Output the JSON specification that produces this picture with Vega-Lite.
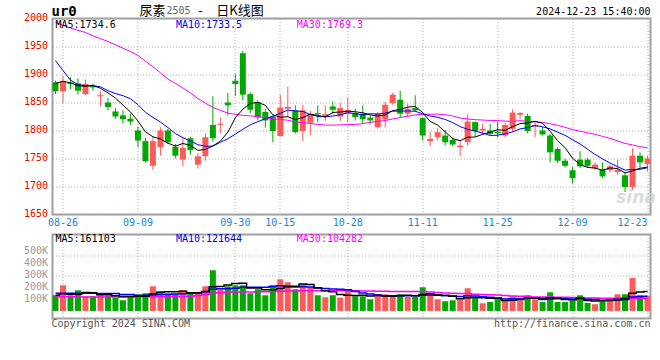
{
  "$schema": "https://vega.github.io/schema/vega-lite/v6.json",
  "background": "#ffffff",
  "padding": {"left": 21.5, "top": 3.5, "right": 8, "bottom": 4},
  "bounds": "flush",
  "spacing": 20,
  "config": {
    "view": {"stroke": "#a0a0a0", "strokeWidth": 2},
    "font": "DejaVu Sans Mono",
    "axis": {"labelFont": "DejaVu Sans Mono", "labelFontSize": 10, "ticks": false, "domain": false, "tickSize": 0, "gridColor": "#b0b0b0", "gridDash": [1, 2], "gridWidth": 1, "labelOverlap": false}
  },
  "datasets": {
    "k": [
      {"d":"08-23","o":1886,"h":1889,"l":1865,"c":1870,"v":130600,"m5":1884,"m10":1925,"m30":1993,"vm5":131000,"vm10":147000,"vm30":118000},
      {"d":"08-26","o":1870,"h":1898,"l":1849,"c":1888,"v":213900,"m5":1888,"m10":1907,"m30":1988,"vm5":144000,"vm10":147000,"vm30":118000},
      {"d":"08-27","o":1886,"h":1895,"l":1874,"c":1883,"v":130600,"m5":1885,"m10":1890,"m30":1983,"vm5":139000,"vm10":148000,"vm30":118000},
      {"d":"08-28","o":1884,"h":1893,"l":1864,"c":1871,"v":172200,"m5":1880,"m10":1882,"m30":1979,"vm5":139000,"vm10":148000,"vm30":117000},
      {"d":"08-29","o":1865,"h":1891,"l":1863,"c":1883,"v":122200,"m5":1879,"m10":1880,"m30":1975,"vm5":153900,"vm10":147000,"vm30":117000},
      {"d":"08-30","o":1880,"h":1884,"l":1871,"c":1877,"v":122200,"m5":1880.4,"m10":1880,"m30":1969,"vm5":152200,"vm10":147000,"vm30":117000},
      {"d":"09-02","o":1861,"h":1870,"l":1843,"c":1863,"v":130600,"m5":1875.4,"m10":1878,"m30":1964,"vm5":135600,"vm10":146000,"vm30":117000},
      {"d":"09-03","o":1850,"h":1858,"l":1836,"c":1842,"v":147200,"m5":1867.2,"m10":1871,"m30":1959,"vm5":138900,"vm10":146000,"vm30":117000},
      {"d":"09-04","o":1834,"h":1840,"l":1821,"c":1825,"v":111100,"m5":1858,"m10":1866,"m30":1953,"vm5":126700,"vm10":146000,"vm30":117000},
      {"d":"09-05","o":1827,"h":1836,"l":1812,"c":1820,"v":88900,"m5":1845.4,"m10":1862.2,"m30":1947,"vm5":120000,"vm10":137000,"vm30":117000},
      {"d":"09-06","o":1821,"h":1830,"l":1810,"c":1816,"v":122200,"m5":1833.2,"m10":1856.8,"m30":1941,"vm5":120000,"vm10":136100,"vm30":117000},
      {"d":"09-09","o":1800,"h":1807,"l":1770,"c":1782,"v":138900,"m5":1817,"m10":1846.2,"m30":1934,"vm5":121700,"vm10":128600,"vm30":118000},
      {"d":"09-10","o":1781,"h":1787,"l":1743,"c":1745,"v":147200,"m5":1797.6,"m10":1832.4,"m30":1924,"vm5":121700,"vm10":130300,"vm30":118000},
      {"d":"09-11","o":1737,"h":1789,"l":1730,"c":1781,"v":205600,"m5":1788.8,"m10":1823.4,"m30":1914,"vm5":140600,"vm10":133600,"vm30":119000},
      {"d":"09-12","o":1770,"h":1806,"l":1755,"c":1800,"v":163900,"m5":1784.8,"m10":1815.1,"m30":1903,"vm5":155600,"vm10":137800,"vm30":119000},
      {"d":"09-13","o":1800,"h":1803,"l":1776,"c":1779,"v":138900,"m5":1777.4,"m10":1805.3,"m30":1892,"vm5":158900,"vm10":139500,"vm30":120000},
      {"d":"09-18","o":1771,"h":1776,"l":1750,"c":1755,"v":138900,"m5":1772,"m10":1794.5,"m30":1884,"vm5":158900,"vm10":140300,"vm30":120000},
      {"d":"09-19","o":1748,"h":1786,"l":1736,"c":1769,"v":172200,"m5":1776.8,"m10":1787.2,"m30":1876,"vm5":163900,"vm10":142800,"vm30":121000},
      {"d":"09-20","o":1786,"h":1789,"l":1757,"c":1765,"v":147200,"m5":1773.6,"m10":1781.2,"m30":1867,"vm5":152200,"vm10":146400,"vm30":122000},
      {"d":"09-23","o":1739,"h":1760,"l":1732,"c":1754,"v":147200,"m5":1764.4,"m10":1774.6,"m30":1857,"vm5":148900,"vm10":152200,"vm30":128000},
      {"d":"09-24","o":1754,"h":1795,"l":1746,"c":1788,"v":205600,"m5":1766.2,"m10":1771.8,"m30":1849,"vm5":162200,"vm10":160600,"vm30":136000},
      {"d":"09-25","o":1810,"h":1861,"l":1780,"c":1786,"v":338900,"m5":1772.4,"m10":1772.2,"m30":1841,"vm5":202200,"vm10":180600,"vm30":150000},
      {"d":"09-26","o":1810,"h":1823,"l":1795,"c":1812,"v":180600,"m5":1781,"m10":1778.9,"m30":1836,"vm5":203900,"vm10":183900,"vm30":153000},
      {"d":"09-27","o":1850,"h":1867,"l":1827,"c":1845,"v":205600,"m5":1797,"m10":1785.3,"m30":1831,"vm5":215600,"vm10":183900,"vm30":155000},
      {"d":"09-30","o":1889,"h":1900,"l":1862,"c":1883,"v":213900,"m5":1822.8,"m10":1793.6,"m30":1829,"vm5":228900,"vm10":188900,"vm30":157000},
      {"d":"10-08","o":1938,"h":1942,"l":1854,"c":1864,"v":213900,"m5":1838,"m10":1802.1,"m30":1827,"vm5":230600,"vm10":196400,"vm30":158000},
      {"d":"10-09","o":1865,"h":1868,"l":1831,"c":1837,"v":147200,"m5":1848.2,"m10":1810.3,"m30":1826,"vm5":192200,"vm10":197200,"vm30":158000},
      {"d":"10-10","o":1850,"h":1854,"l":1818,"c":1823,"v":180600,"m5":1850.4,"m10":1815.7,"m30":1825,"vm5":192200,"vm10":198100,"vm30":159000},
      {"d":"10-11","o":1833,"h":1839,"l":1805,"c":1818,"v":130600,"m5":1845,"m10":1821,"m30":1823,"vm5":177200,"vm10":196400,"vm30":160000},
      {"d":"10-14","o":1825,"h":1827,"l":1779,"c":1799,"v":213900,"m5":1828.2,"m10":1825.5,"m30":1820.8,"vm5":177200,"vm10":203100,"vm30":162000},
      {"d":"10-15","o":1790,"h":1864,"l":1789,"c":1841,"v":263900,"m5":1823.6,"m10":1830.8,"m30":1819.8,"vm5":187200,"vm10":208900,"vm30":165000},
      {"d":"10-16","o":1839,"h":1879,"l":1824,"c":1842,"v":238900,"m5":1824.6,"m10":1836.4,"m30":1818.3,"vm5":205600,"vm10":198900,"vm30":166000},
      {"d":"10-17","o":1836,"h":1845,"l":1795,"c":1797,"v":180600,"m5":1819.4,"m10":1834.9,"m30":1815.4,"vm5":205600,"vm10":198900,"vm30":167000},
      {"d":"10-18","o":1799,"h":1846,"l":1781,"c":1836,"v":222200,"m5":1823,"m10":1834,"m30":1814.2,"vm5":223900,"vm10":200600,"vm30":168000},
      {"d":"10-21","o":1814,"h":1835,"l":1791,"c":1830,"v":197200,"m5":1829.2,"m10":1828.7,"m30":1812.5,"vm5":220600,"vm10":198900,"vm30":169000},
      {"d":"10-22","o":1831,"h":1845,"l":1815,"c":1829,"v":130600,"m5":1826.8,"m10":1825.2,"m30":1810.9,"vm5":193900,"vm10":190600,"vm30":169000},
      {"d":"10-23","o":1826,"h":1845,"l":1817,"c":1829,"v":113900,"m5":1824.2,"m10":1824.4,"m30":1809.7,"vm5":168900,"vm10":187200,"vm30":169000},
      {"d":"10-24","o":1843,"h":1852,"l":1829,"c":1837,"v":130600,"m5":1832.2,"m10":1825.8,"m30":1809.6,"vm5":158900,"vm10":182200,"vm30":168000},
      {"d":"10-25","o":1825,"h":1849,"l":1817,"c":1840,"v":111100,"m5":1833,"m10":1828,"m30":1810.1,"vm5":136700,"vm10":180300,"vm30":168000},
      {"d":"10-28","o":1830,"h":1858,"l":1815,"c":1837,"v":166700,"m5":1834.4,"m10":1831.8,"m30":1810.6,"vm5":130600,"vm10":175600,"vm30":169000},
      {"d":"10-29","o":1831,"h":1839,"l":1818,"c":1824,"v":122200,"m5":1833.4,"m10":1830.1,"m30":1810.9,"vm5":128900,"vm10":161400,"vm30":168000},
      {"d":"10-30","o":1830,"h":1845,"l":1812,"c":1820,"v":122200,"m5":1831.6,"m10":1827.9,"m30":1812.2,"vm5":130600,"vm10":149700,"vm30":167000},
      {"d":"10-31","o":1823,"h":1827,"l":1811,"c":1818,"v":97200,"m5":1827.8,"m10":1830,"m30":1814.6,"vm5":123900,"vm10":141400,"vm30":166000},
      {"d":"11-01","o":1806,"h":1833,"l":1803,"c":1830,"v":138900,"m5":1825.8,"m10":1829.4,"m30":1816.2,"vm5":129400,"vm10":133100,"vm30":165000},
      {"d":"11-04","o":1820,"h":1851,"l":1805,"c":1846,"v":138900,"m5":1827.6,"m10":1831,"m30":1817.8,"vm5":123900,"vm10":127200,"vm30":164000},
      {"d":"11-05","o":1849,"h":1867,"l":1846,"c":1864,"v":116700,"m5":1835.6,"m10":1834.5,"m30":1820.6,"vm5":122800,"vm10":125800,"vm30":163000},
      {"d":"11-06","o":1855,"h":1871,"l":1823,"c":1830,"v":138900,"m5":1837.6,"m10":1834.6,"m30":1823.1,"vm5":126100,"vm10":128300,"vm30":163000},
      {"d":"11-07","o":1830,"h":1848,"l":1824,"c":1839,"v":116700,"m5":1841.8,"m10":1834.8,"m30":1825.4,"vm5":130000,"vm10":127000,"vm30":162000},
      {"d":"11-08","o":1840,"h":1863,"l":1833,"c":1836,"v":116700,"m5":1843,"m10":1834.4,"m30":1827.8,"vm5":125600,"vm10":127500,"vm30":161000},
      {"d":"11-11","o":1822,"h":1824,"l":1782,"c":1791,"v":197200,"m5":1832,"m10":1829.8,"m30":1829,"vm5":137200,"vm10":130600,"vm30":162000},
      {"d":"11-12","o":1781,"h":1798,"l":1772,"c":1785,"v":150000,"m5":1816.2,"m10":1825.9,"m30":1828.9,"vm5":143900,"vm10":133300,"vm30":158000},
      {"d":"11-13","o":1788,"h":1805,"l":1782,"c":1797,"v":97200,"m5":1809.6,"m10":1823.6,"m30":1829.3,"vm5":135600,"vm10":130800,"vm30":153000},
      {"d":"11-14","o":1791,"h":1801,"l":1773,"c":1779,"v":80600,"m5":1797.6,"m10":1819.7,"m30":1828.2,"vm5":128300,"vm10":129200,"vm30":150000},
      {"d":"11-15","o":1783,"h":1788,"l":1772,"c":1775,"v":88900,"m5":1785.4,"m10":1814.2,"m30":1825.9,"vm5":122800,"vm10":124200,"vm30":148000},
      {"d":"11-18","o":1770,"h":1781,"l":1754,"c":1773,"v":94400,"m5":1781.8,"m10":1806.9,"m30":1822.2,"vm5":102200,"vm10":119700,"vm30":146000},
      {"d":"11-19","o":1779,"h":1829,"l":1773,"c":1816,"v":188900,"m5":1788,"m10":1802.1,"m30":1820.6,"vm5":110000,"vm10":127000,"vm30":145000},
      {"d":"11-20","o":1815,"h":1816,"l":1789,"c":1799,"v":111100,"m5":1788.4,"m10":1799,"m30":1819.3,"vm5":112800,"vm10":124200,"vm30":140000},
      {"d":"11-21","o":1800,"h":1812,"l":1793,"c":1803,"v":63900,"m5":1793.2,"m10":1795.4,"m30":1818.7,"vm5":109400,"vm10":118900,"vm30":136000},
      {"d":"11-22","o":1800,"h":1812,"l":1791,"c":1794,"v":75000,"m5":1797,"m10":1791.2,"m30":1817.9,"vm5":106700,"vm10":114700,"vm30":134000},
      {"d":"11-25","o":1798,"h":1815,"l":1787,"c":1795,"v":97200,"m5":1801.4,"m10":1791.6,"m30":1817.7,"vm5":107200,"vm10":104700,"vm30":132000},
      {"d":"11-26","o":1791,"h":1814,"l":1788,"c":1810,"v":88900,"m5":1800.2,"m10":1794.1,"m30":1816.7,"vm5":87200,"vm10":98600,"vm30":128000},
      {"d":"11-27","o":1803,"h":1838,"l":1797,"c":1832,"v":122200,"m5":1806.8,"m10":1797.6,"m30":1816.4,"vm5":89400,"vm10":101100,"vm30":125000},
      {"d":"11-28","o":1828,"h":1833,"l":1821,"c":1831,"v":88900,"m5":1812.4,"m10":1802.8,"m30":1817.5,"vm5":94400,"vm10":101900,"vm30":123000},
      {"d":"11-29","o":1826,"h":1830,"l":1795,"c":1799,"v":130600,"m5":1813.4,"m10":1805.2,"m30":1816.3,"vm5":105600,"vm10":106100,"vm30":120000},
      {"d":"12-02","o":1807,"h":1815,"l":1788,"c":1810,"v":97200,"m5":1816.4,"m10":1808.9,"m30":1815.6,"vm5":105600,"vm10":106400,"vm30":117000},
      {"d":"12-03","o":1800,"h":1806,"l":1791,"c":1793,"v":75000,"m5":1813,"m10":1806.6,"m30":1814.4,"vm5":102800,"vm10":95000,"vm30":116000},
      {"d":"12-04","o":1791,"h":1794,"l":1743,"c":1761,"v":155600,"m5":1798.8,"m10":1802.8,"m30":1812.1,"vm5":109500,"vm10":99500,"vm30":116000},
      {"d":"12-05","o":1767,"h":1770,"l":1742,"c":1746,"v":75000,"m5":1781.8,"m10":1797.1,"m30":1809.1,"vm5":106700,"vm10":100600,"vm30":115000},
      {"d":"12-06","o":1746,"h":1750,"l":1734,"c":1737,"v":75000,"m5":1769.4,"m10":1791.4,"m30":1805.7,"vm5":95600,"vm10":100600,"vm30":114000},
      {"d":"12-09","o":1729,"h":1735,"l":1705,"c":1715,"v":88900,"m5":1750.4,"m10":1783.4,"m30":1801.6,"vm5":93900,"vm10":99700,"vm30":112000},
      {"d":"12-10","o":1748,"h":1763,"l":1733,"c":1736,"v":130600,"m5":1739,"m10":1776,"m30":1798.7,"vm5":105000,"vm10":103900,"vm30":110000},
      {"d":"12-11","o":1748,"h":1751,"l":1733,"c":1737,"v":66700,"m5":1734.2,"m10":1766.5,"m30":1795.9,"vm5":87200,"vm10":98400,"vm30":108000},
      {"d":"12-12","o":1733,"h":1743,"l":1730,"c":1739,"v":55600,"m5":1732.8,"m10":1757.3,"m30":1793.3,"vm5":83400,"vm10":95000,"vm30":107000},
      {"d":"12-13","o":1730,"h":1743,"l":1715,"c":1718,"v":80600,"m5":1729,"m10":1749.2,"m30":1789.5,"vm5":84500,"vm10":90000,"vm30":106000},
      {"d":"12-16","o":1729,"h":1739,"l":1725,"c":1736,"v":105600,"m5":1733.2,"m10":1741.8,"m30":1785.9,"vm5":87800,"vm10":90900,"vm30":105000},
      {"d":"12-17","o":1726,"h":1748,"l":1721,"c":1730,"v":138900,"m5":1732,"m10":1735.5,"m30":1781.4,"vm5":89500,"vm10":97300,"vm30":105000},
      {"d":"12-18","o":1720,"h":1724,"l":1690,"c":1699,"v":138900,"m5":1724.4,"m10":1729.3,"m30":1777,"vm5":103900,"vm10":95600,"vm30":104500},
      {"d":"12-19","o":1699,"h":1768,"l":1694,"c":1755,"v":275000,"m5":1727.6,"m10":1730.2,"m30":1774.2,"vm5":147800,"vm10":115600,"vm30":105500},
      {"d":"12-20","o":1755,"h":1761,"l":1734,"c":1743,"v":130600,"m5":1732.6,"m10":1730.8,"m30":1771.1,"vm5":157800,"vm10":121100,"vm30":105000},
      {"d":"12-23","o":1740,"h":1755,"l":1727,"c":1750,"v":125000,"m5":1734.6,"m10":1733.5,"m30":1769.3,"vm5":161103,"vm10":121644,"vm30":104282}
    ]
  },
  "vconcat": [
    {
      "width": 598,
      "height": 196,
      "data": {"name": "k"},
      "encoding": {
        "x": {"field": "d", "type": "ordinal", "title": null,
          "scale": {"paddingInner": 0.2, "paddingOuter": 0},
          "axis": {"values": ["08-26","09-09","09-30","10-15","10-28","11-11","11-25","12-09","12-23"], "labelColor": "#1a87d6", "labelPadding": 3, "labelAngle": 0, "grid": true, "bandPosition": 0.5, "labelAlign": {"expr": "datum.label == '12-23' ? 'right' : 'center'"}}}
      },
      "layer": [
        {
          "mark": {"type": "rule", "strokeWidth": 1},
          "encoding": {
            "y": {"field": "l", "type": "quantitative", "title": null,
              "scale": {"domain": [1650, 2000], "nice": false, "zero": false},
              "axis": {"values": [1650,1700,1750,1800,1850,1900,1950,2000], "format": "d", "labelColor": "#ee0000", "labelPadding": 5, "grid": true, "labelOffset": -1, "labelOverlap": false, "labelBound": false, "tickCount": 8}},
            "y2": {"field": "h"},
            "color": {"condition": {"test": "datum.c > datum.o", "value": "#ff5a5a"}, "value": "#00a800"}
          }
        },
        {
          "mark": {"type": "bar"},
          "encoding": {
            "y": {"field": "o", "type": "quantitative", "title": null},
            "y2": {"field": "c"},
            "color": {"condition": {"test": "datum.c > datum.o", "value": "#ff5a5a"}, "value": "#00a800"}
          }
        },
        {
          "mark": {"type": "line", "color": "#ff00ff", "strokeWidth": 1},
          "encoding": {"y": {"field": "m30", "type": "quantitative", "title": null}}
        },
        {
          "mark": {"type": "line", "color": "#0000ff", "strokeWidth": 1},
          "encoding": {"y": {"field": "m10", "type": "quantitative", "title": null}}
        },
        {
          "mark": {"type": "line", "color": "#000000", "strokeWidth": 1},
          "encoding": {"y": {"field": "m5", "type": "quantitative", "title": null}}
        },
        {
          "data": {"values": [{"t": "sina"}]},
          "mark": {"type": "text", "align": "center", "baseline": "middle", "fontSize": 17, "fontWeight": "bold", "fontStyle": "italic", "font": "DejaVu Sans", "color": "#d4d4d4", "opacity": 0.8, "dx": 11},
          "encoding": {"x": {"datum": "12-18", "type": "ordinal"}, "y": {"datum": 1680, "type": "quantitative"}, "text": {"field": "t"}}
        },
        {
          "data": {"values": [{"t": "ur0"}]},
          "mark": {"type": "text", "align": "left", "baseline": "middle", "fontSize": 14, "fontWeight": "bold", "font": "DejaVu Sans Mono", "color": "#000000", "dx": -4, "dy": -7},
          "encoding": {"x": {"datum": "08-23", "type": "ordinal"}, "y": {"datum": 2000, "type": "quantitative"}, "text": {"field": "t"}}
        },
        {
          "data": {"values": [{"t": "尿素"}]},
          "mark": {"type": "text", "align": "right", "baseline": "middle", "fontSize": 13, "font": "Noto Sans CJK SC", "color": "#000000", "dx": -2.5, "dy": -8},
          "encoding": {"x": {"datum": "09-13", "type": "ordinal"}, "y": {"datum": 2000, "type": "quantitative"}, "text": {"field": "t"}}
        },
        {
          "data": {"values": [{"t": "2505"}]},
          "mark": {"type": "text", "align": "left", "baseline": "middle", "fontSize": 10, "font": "DejaVu Sans Mono", "color": "#666666", "dx": -1.5, "dy": -7.5},
          "encoding": {"x": {"datum": "09-13", "type": "ordinal"}, "y": {"datum": 2000, "type": "quantitative"}, "text": {"field": "t"}}
        },
        {
          "data": {"values": [{"t": "-"}]},
          "mark": {"type": "text", "align": "center", "baseline": "middle", "fontSize": 13, "font": "Noto Sans CJK SC", "color": "#000000", "dx": 2.5, "dy": -8},
          "encoding": {"x": {"datum": "09-23", "type": "ordinal"}, "y": {"datum": 2000, "type": "quantitative"}, "text": {"field": "t"}}
        },
        {
          "data": {"values": [{"t": "日K线图"}]},
          "mark": {"type": "text", "align": "left", "baseline": "middle", "fontSize": 13, "font": "Noto Sans CJK SC", "color": "#000000", "dx": 3.5, "dy": -8},
          "encoding": {"x": {"datum": "09-25", "type": "ordinal"}, "y": {"datum": 2000, "type": "quantitative"}, "text": {"field": "t"}}
        },
        {
          "data": {"values": [{"t": "2024-12-23 15:40:00"}]},
          "mark": {"type": "text", "align": "right", "baseline": "middle", "fontSize": 10, "font": "DejaVu Sans Mono", "color": "#000000", "dx": 3, "dy": -6.5},
          "encoding": {"x": {"datum": "12-23", "type": "ordinal"}, "y": {"datum": 2000, "type": "quantitative"}, "text": {"field": "t"}}
        },
        {
          "data": {"values": [{"t": "MA5:1734.6"}]},
          "mark": {"type": "text", "align": "left", "baseline": "middle", "fontSize": 10, "font": "DejaVu Sans Mono", "color": "#000000", "dx": 0, "dy": 6},
          "encoding": {"x": {"datum": "08-23", "type": "ordinal"}, "y": {"datum": 2000, "type": "quantitative"}, "text": {"field": "t"}}
        },
        {
          "data": {"values": [{"t": "MA10:1733.5"}]},
          "mark": {"type": "text", "align": "left", "baseline": "middle", "fontSize": 10, "font": "DejaVu Sans Mono", "color": "#0000ee", "dx": 0.5, "dy": 6},
          "encoding": {"x": {"datum": "09-18", "type": "ordinal"}, "y": {"datum": 2000, "type": "quantitative"}, "text": {"field": "t"}}
        },
        {
          "data": {"values": [{"t": "MA30:1769.3"}]},
          "mark": {"type": "text", "align": "left", "baseline": "middle", "fontSize": 10, "font": "DejaVu Sans Mono", "color": "#ff00ff", "dx": 1.5, "dy": 6},
          "encoding": {"x": {"datum": "10-17", "type": "ordinal"}, "y": {"datum": 2000, "type": "quantitative"}, "text": {"field": "t"}}
        }
      ]
    },
    {
      "width": 598,
      "height": 84,
      "data": {"name": "k"},
      "encoding": {
        "x": {"field": "d", "type": "ordinal", "title": null,
          "scale": {"paddingInner": 0.2, "paddingOuter": 0},
          "axis": {"values": ["08-26","09-09","09-30","10-15","10-28","11-11","11-25","12-09","12-23"], "labels": false, "grid": true, "bandPosition": 0.5}}
      },
      "layer": [
        {
          "mark": {"type": "bar"},
          "encoding": {
            "y": {"field": "v", "type": "quantitative", "title": null,
              "scale": {"domain": [-63000, 637000], "nice": false, "zero": false},
              "axis": {"values": [100000,200000,300000,400000,500000], "labelExpr": "datum.value / 1000 + 'K'", "labelColor": "#999999", "labelPadding": 5, "grid": false, "labelOverlap": false, "tickCount": 5}},
            "y2": {"datum": 0},
            "color": {"condition": {"test": "datum.c > datum.o", "value": "#ff5a5a"}, "value": "#00a800"}
          }
        },
        {
          "mark": {"type": "line", "color": "#ff00ff", "strokeWidth": 1.5, "interpolate": "step"},
          "encoding": {"y": {"field": "vm30", "type": "quantitative", "title": null,
            "scale": {"domain": [-63000, 637000], "nice": false, "zero": false},
            "axis": {"orient": "right", "values": [295000, 462000], "labels": false, "grid": true}}}
        },
        {
          "mark": {"type": "line", "color": "#0000ff", "strokeWidth": 1.5, "interpolate": "step"},
          "encoding": {"y": {"field": "vm10", "type": "quantitative", "title": null,
            "scale": {"domain": [-63000, 637000], "nice": false, "zero": false}, "axis": null}}
        },
        {
          "mark": {"type": "line", "color": "#000000", "strokeWidth": 1.5, "interpolate": "step"},
          "encoding": {"y": {"field": "vm5", "type": "quantitative", "title": null,
            "scale": {"domain": [-63000, 637000], "nice": false, "zero": false}, "axis": null}}
        },
        {
          "data": {"values": [{"t": "MA5:161103"}]},
          "mark": {"type": "text", "align": "left", "baseline": "middle", "fontSize": 10, "font": "DejaVu Sans Mono", "color": "#000000", "dx": 0, "dy": 4},
          "encoding": {"x": {"datum": "08-23", "type": "ordinal"}, "y": {"datum": 637000, "type": "quantitative", "scale": {"domain": [-63000, 637000], "nice": false, "zero": false}, "axis": null}, "text": {"field": "t"}}
        },
        {
          "data": {"values": [{"t": "MA10:121644"}]},
          "mark": {"type": "text", "align": "left", "baseline": "middle", "fontSize": 10, "font": "DejaVu Sans Mono", "color": "#0000ee", "dx": 0.5, "dy": 4},
          "encoding": {"x": {"datum": "09-18", "type": "ordinal"}, "y": {"datum": 637000, "type": "quantitative", "scale": {"domain": [-63000, 637000], "nice": false, "zero": false}, "axis": null}, "text": {"field": "t"}}
        },
        {
          "data": {"values": [{"t": "MA30:104282"}]},
          "mark": {"type": "text", "align": "left", "baseline": "middle", "fontSize": 10, "font": "DejaVu Sans Mono", "color": "#ff00ff", "dx": 1.5, "dy": 4},
          "encoding": {"x": {"datum": "10-17", "type": "ordinal"}, "y": {"datum": 637000, "type": "quantitative", "scale": {"domain": [-63000, 637000], "nice": false, "zero": false}, "axis": null}, "text": {"field": "t"}}
        },
        {
          "data": {"values": [{"t": "Copyright 2024 SINA.COM"}]},
          "mark": {"type": "text", "align": "left", "baseline": "middle", "fontSize": 10, "font": "DejaVu Sans Mono", "color": "#555555", "dx": -4, "dy": 5.5},
          "encoding": {"x": {"datum": "08-23", "type": "ordinal"}, "y": {"datum": -63000, "type": "quantitative", "scale": {"domain": [-63000, 637000], "nice": false, "zero": false}, "axis": null}, "text": {"field": "t"}}
        },
        {
          "data": {"values": [{"t": "http://finance.sina.com.cn"}]},
          "mark": {"type": "text", "align": "right", "baseline": "middle", "fontSize": 10, "font": "DejaVu Sans Mono", "color": "#555555", "dx": 3, "dy": 5.5},
          "encoding": {"x": {"datum": "12-23", "type": "ordinal"}, "y": {"datum": -63000, "type": "quantitative", "scale": {"domain": [-63000, 637000], "nice": false, "zero": false}, "axis": null}, "text": {"field": "t"}}
        }
      ],
      "resolve": {"scale": {"y": "independent"}}
    }
  ]
}
